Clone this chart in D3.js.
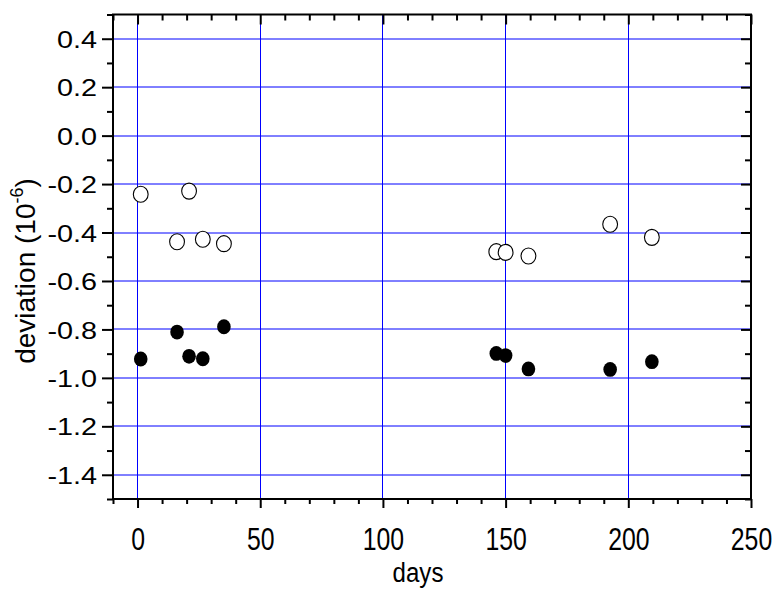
<!DOCTYPE html>
<html>
<head>
<meta charset="utf-8">
<script src="https://cdn.jsdelivr.net/npm/d3@7"></script>
<style>
  html, body { margin: 0; padding: 0; background: #fff; }
  svg { display: block; }
  text { font-family: "Liberation Sans", Arial, sans-serif; fill: #000; }
</style>
</head>
<body>
<script>
// ---- data ----
const openDays = [1.3, 16.1, 21.0, 26.6, 35.2, 146.2, 150.0, 159.3, 192.6, 209.6];
const openDev  = [-0.242, -0.438, -0.229, -0.428, -0.446, -0.479, -0.482, -0.497, -0.366, -0.420];
const filledDays = [1.3, 16.1, 21.0, 26.6, 35.2, 146.2, 150.0, 159.3, 192.6, 209.6];
const filledDev  = [-0.922, -0.811, -0.911, -0.921, -0.789, -0.899, -0.908, -0.963, -0.965, -0.933];
const xTicks = [0, 50, 100, 150, 200, 250];
const yTicks = [0.4, 0.2, 0.0, -0.2, -0.4, -0.6, -0.8, -1.0, -1.2, -1.4];
const xLabel = "days";

// ---- layout ----
const W = 777, H = 590;
const m = {left: 113, top: 14.5, right: 26, bottom: 91};
const iw = W - m.left - m.right, ih = H - m.top - m.bottom;

const svg = d3.select("body").append("svg").attr("width", W).attr("height", H);
const g = svg.append("g").attr("transform", `translate(${m.left},${m.top})`);

const x = d3.scaleLinear().domain([-10, 250]).range([0, iw]);
const y = d3.scaleLinear().domain([-1.5, 0.5]).range([ih, 0]);
const px = v => Math.round(v - 0.5) + 0.5;

// grid
g.append("g").selectAll("line").data(xTicks.filter(d => d < 250)).join("line")
  .attr("x1", d => px(x(d))).attr("x2", d => px(x(d))).attr("y1", 0).attr("y2", ih)
  .attr("stroke", "#0000ff").attr("stroke-width", 1);
g.append("g").selectAll("line").data(yTicks).join("line")
  .attr("y1", d => px(y(d))).attr("y2", d => px(y(d))).attr("x1", 0).attr("x2", iw)
  .attr("stroke", "#0000ff").attr("stroke-width", 1);

const xMinor = d3.range(-10, 251, 10).filter(d => d % 50 !== 0);
const yMinor = d3.range(-15, 6, 2).map(d => d / 10);

// bottom axis (outward)
const xb = g.append("g").attr("transform", `translate(0,${ih})`)
  .call(d3.axisBottom(x).tickValues(xTicks).tickFormat(d3.format("d")).tickSize(9).tickPadding(10));
g.append("g").attr("transform", `translate(0,${ih})`)
  .call(d3.axisBottom(x).tickValues(xMinor).tickFormat("").tickSize(5));
// top axis (inward)
g.append("g").call(d3.axisTop(x).tickValues(xTicks).tickFormat("").tickSize(-10));
g.append("g").call(d3.axisTop(x).tickValues(xMinor).tickFormat("").tickSize(-6));
// left axis (outward)
const yl = g.append("g")
  .call(d3.axisLeft(y).tickValues(yTicks).tickFormat(d3.format(".1f")).tickSize(11).tickPadding(5));
g.append("g").call(d3.axisLeft(y).tickValues(yMinor).tickFormat("").tickSize(6));
// right axis (inward)
g.append("g").attr("transform", `translate(${iw},0)`)
  .call(d3.axisRight(y).tickValues(yTicks).tickFormat("").tickSize(-10));
g.append("g").attr("transform", `translate(${iw},0)`)
  .call(d3.axisRight(y).tickValues(yMinor).tickFormat("").tickSize(-6));

g.selectAll(".domain").remove();
g.selectAll(".tick line").attr("stroke", "#000").attr("stroke-width", 2);

xb.selectAll(".tick text")
  .attr("font-size", 31).attr("font-family", "Liberation Sans, Arial, sans-serif")
  .attr("y", 0).attr("dy", null)
  .attr("transform", "translate(0,51) scale(0.8,1)");
yl.selectAll(".tick text")
  .attr("font-size", 24).attr("font-family", "Liberation Sans, Arial, sans-serif")
  .attr("x", 0).attr("dy", "0.36em")
  .attr("transform", "translate(-16,0) scale(1.2,1)")
  .text(d => d3.format(".1f")(d).replace("−", "-"));

// frame
g.append("rect").attr("x", 0).attr("y", 0).attr("width", iw).attr("height", ih)
  .attr("fill", "none").attr("stroke", "#000").attr("stroke-width", 2);

// points
const openPts = openDays.map((d, i) => ({x: d, y: openDev[i]}));
const filledPts = filledDays.map((d, i) => ({x: d, y: filledDev[i]}));
g.append("g").selectAll("ellipse").data(openPts).join("ellipse")
  .attr("cx", d => x(d.x)).attr("cy", d => y(d.y)).attr("rx", 7.4).attr("ry", 8)
  .attr("fill", "#fff").attr("stroke", "#000").attr("stroke-width", 1.1);
g.append("g").selectAll("ellipse").data(filledPts).join("ellipse")
  .attr("cx", d => x(d.x)).attr("cy", d => y(d.y)).attr("rx", 6.8).attr("ry", 7.4)
  .attr("fill", "#000");

// axis labels
svg.append("text").attr("transform", "translate(418,582) scale(0.86,1)")
  .attr("text-anchor", "middle").attr("font-size", 28).text(xLabel);
const yt = svg.append("text").attr("transform", `translate(35,271) rotate(-90)`)
  .attr("text-anchor", "middle").attr("font-size", 28);
yt.append("tspan").text("deviation (10");
yt.append("tspan").attr("font-size", 18).attr("dy", -12).text("-6");
yt.append("tspan").attr("dy", 12).text(")");
</script>
</body>
</html>
